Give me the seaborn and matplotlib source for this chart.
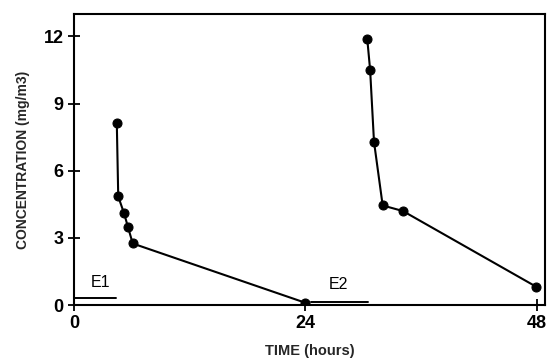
import matplotlib
matplotlib.use("Agg")
import matplotlib.pyplot as plt
import seaborn as sns
import pandas as pd

# Data
time_e1 = [4.45, 4.6, 5.2, 5.6, 6.1, 24.0]
conc_e1 = [8.15, 4.85, 4.1, 3.5, 2.75, 0.1]
time_e2 = [30.4, 30.7, 31.1, 32.0, 34.1, 47.9]
conc_e2 = [11.9, 10.5, 7.3, 4.45, 4.2, 0.82]
exposure_labels = ["E1", "E2"]
exposure_start = [0.0, 24.6]
exposure_end = [4.4, 30.5]
exposure_level = [0.3, 0.15]
label_x = [2.8, 27.4]
label_y = [1.0, 0.9]
x_ticks = [0, 24, 48]
y_ticks = [0, 3, 6, 9, 12]

sns.set_theme(style="ticks")
plt.rcParams['font.family'] = ['Liberation Sans', 'DejaVu Sans']

fig = plt.figure(figsize=(5.47, 3.61), dpi=100)
ax = fig.add_axes([0.135, 0.155, 0.861, 0.806])

df1 = pd.DataFrame({"t": time_e1, "c": conc_e1})
df2 = pd.DataFrame({"t": time_e2, "c": conc_e2})
for df in (df1, df2):
    sns.lineplot(data=df, x="t", y="c", ax=ax, color="black", linewidth=1.5,
                 marker="o", markersize=6.5, markeredgecolor="black", sort=False)

for lab, xs, xe, lv, tx, ty in zip(exposure_labels, exposure_start, exposure_end,
                                  exposure_level, label_x, label_y):
    ax.plot([xs, xe], [lv, lv], color="black", linewidth=1.4)
    ax.text(tx, ty, lab, ha="center", va="center", fontsize=11.5,
            fontweight="medium", color="black")

ax.set_xlim(0, 48.8)
ax.set_ylim(0, 13)
ax.set_xticks(x_ticks)
ax.set_yticks(y_ticks)
ax.tick_params(direction="inout", length=8, width=1.3, colors="black",
               labelsize=13)
for lbl in ax.get_xticklabels() + ax.get_yticklabels():
    lbl.set_fontweight("bold")
for s in ax.spines.values():
    s.set_visible(True)
    s.set_linewidth(1.5)
    s.set_color("black")

ax.set_xlabel("TIME (hours)", fontsize=10.5, fontweight="bold", labelpad=8)
ax.set_ylabel("CONCENTRATION (mg/m3)", fontsize=10, fontweight="bold", labelpad=10)

fig.savefig("out.png", dpi=100, facecolor="white")
